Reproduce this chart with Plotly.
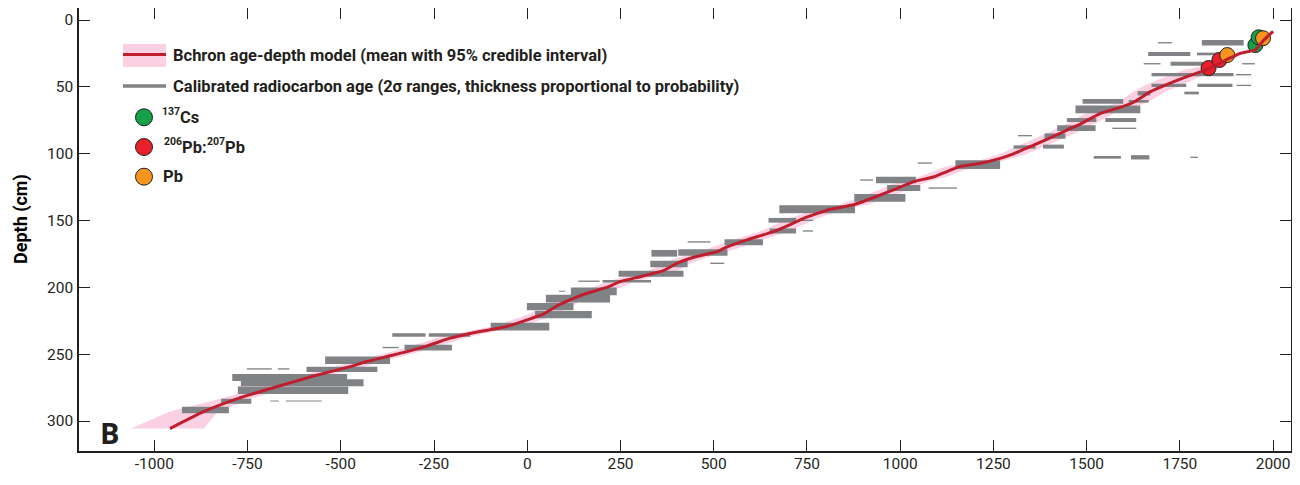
import plotly.graph_objects as go

# ---------------- data ----------------
# Bchron mean age-depth model
model_depth = [8.5, 15, 22.4, 24.9, 29.4, 36.9, 42.4, 48.1, 53.6, 61.5, 65.3, 69.8, 77.8, 82.3,
               84.8, 93.5, 100.5, 103.5, 107.2, 109.5, 117.4, 120.9, 127, 130.9, 138.2, 141.6,
               148.3, 153, 158.3, 164.5, 170.8, 173.3, 177.5, 182, 187.5, 192, 195.7, 200, 204.4,
               208.2, 213.9, 220, 224.4, 228.6, 235, 238, 244.3, 250.6, 255.5, 259.3,
               266.3, 274.3, 283, 293, 305.6]
model_age = [2000, 1975, 1952, 1912, 1877, 1823, 1769, 1716, 1671, 1626, 1590, 1537, 1483, 1447,
             1429, 1358, 1300, 1268, 1215, 1161, 1089, 1036, 982, 947, 875, 812,
             741, 705, 660, 589, 527, 509, 446, 401, 365, 303, 249, 213, 160,
             124, 79, 43, -1, -46, -162, -207, -274, -359, -430, -475,
             -573, -672, -775, -868, -958]

# 95% credible interval of the model
band_depth = [20, 25, 30, 34, 37, 42.4, 48.1, 53.6, 61.5, 65.3, 69.8, 77.8, 84.8, 93.5, 100.5,
              103.5, 107.2, 109.5, 117.4, 120.9, 127, 130.9, 138.2, 141.6, 148.3, 153, 158.3,
              164.5, 170.8, 177.5, 182, 187.5, 192, 195.7, 200, 204.4, 208.2, 213.9, 220, 224.4,
              228.6, 235, 238, 244.3, 250.6, 255.5, 259.3, 266.3, 274.3, 283, 293, 300, 305.6]
band_lo = [1950, 1900, 1860, 1820, 1765, 1712, 1662, 1625, 1585, 1550, 1497, 1447, 1392, 1322, 1265,
           1232, 1177, 1122, 1052, 997, 942, 909, 837, 775, 703, 667, 622,
           551, 489, 408, 363, 327, 265, 211, 175, 122, 86, 41, 5, -39,
           -84, -200, -245, -312, -397, -468, -513, -611, -710, -818, -960, -1020, -1063]
band_hi = [1968, 1925, 1880, 1850, 1835, 1805, 1760, 1710, 1665, 1625, 1575, 1520, 1468, 1395, 1338,
           1303, 1253, 1198, 1123, 1073, 1018, 985, 913, 851, 779, 743, 698,
           627, 565, 484, 439, 403, 341, 287, 251, 198, 162, 117, 81, 37,
           -8, -124, -169, -236, -321, -392, -437, -535, -634, -737, -830, -851, -867]

# Calibrated radiocarbon ages: depth, 2-sigma range start/end, relative probability
rc_depth = [17.0, 17.0, 25.4, 25.4, 32.7, 32.7, 32.7, 40.9, 40.9, 48.9, 48.9, 48.9, 54.6, 54.8,
            60.8, 60.8, 66.8, 74.8, 74.8, 80.8, 81.0, 86.5, 86.8, 95.0, 94.7, 102.7, 102.7, 102.7,
            107.0, 108.2, 119.7, 119.7, 125.7, 125.7, 133.0, 141.6, 149.8, 149.8, 157.8, 157.8,
            166.3, 166.0, 173.9, 174.5, 182.0, 182.5, 189.8, 195.4, 195.4, 202.9, 202.9, 208.4,
            214.4, 220.4, 229.4, 235.6, 235.6, 245.0, 245.0, 254.5, 261.3, 261.0, 261.0, 267.5,
            271.3, 277.0, 285.2, 285.0, 285.0, 291.7]
rc_start = [1691, 1809, 1665, 1796, 1653, 1725, 1917, 1674, 1900, 1674, 1797, 1902, 1762, 1637,
            1489, 1613, 1470, 1447, 1550, 1421, 1569, 1316, 1387, 1304, 1383, 1519, 1619, 1778,
            1047, 1148, 893, 935, 965, 1076, 877, 676, 647, 734, 650, 739,
            529, 430, 405, 333, 491, 330, 245, 202, 137, 117, 85, 50,
            -1, 21, -98, -362, -264, -388, -329, -542, -592, -752, -669, -791,
            -768, -776, -821, -689, -647, -926]
rc_end = [1729, 1921, 1778, 1858, 1698, 1814, 1951, 1894, 1941, 1767, 1891, 1941, 1801, 1671,
          1598, 1666, 1644, 1526, 1633, 1524, 1633, 1353, 1443, 1363, 1439, 1592, 1668, 1798,
          1085, 1268, 927, 1042, 1054, 1152, 1014, 879, 721, 766, 721, 766,
          632, 491, 537, 402, 528, 430, 419, 332, 194, 240, 102, 222,
          124, 173, 59, -273, -153, -345, -202, -368, -402, -685, -638, -483,
          -439, -480, -740, -666, -551, -800]
rc_prob = [0.15, 0.59, 0.44, 0.30, 0.15, 0.44, 0.15, 0.37, 0.15, 0.37, 0.37, 0.15, 0.30, 0.48,
           0.52, 0.30, 0.86, 0.44, 0.44, 0.63, 0.15, 0.15, 0.59, 0.37, 0.44, 0.30, 0.48, 0.15,
           0.15, 0.97, 0.15, 0.74, 0.67, 0.15, 0.86, 0.89, 0.52, 0.15, 0.56, 0.15,
           0.67, 0.15, 0.74, 0.74, 0.15, 0.74, 0.67, 0.30, 0.15, 0.86, 0.11, 0.86,
           0.81, 0.81, 0.86, 0.37, 0.37, 0.15, 0.63, 0.81, 0.59, 0.15, 0.15, 0.78,
           0.78, 0.83, 0.56, 0.11, 0.11, 0.74]

# Short-lived radionuclide / lead markers
cs_age = [1952.5, 1961]
cs_depth = [18.7, 12.9]
pbpb_age = [1827, 1856]
pbpb_depth = [35.9, 29.9]
pb_age = [1877, 1973]
pb_depth = [26.2, 13.6]

x_ticks = [-1000, -750, -500, -250, 0, 250, 500, 750, 1000, 1250, 1500, 1750, 2000]
x_ticklabels = ["-1000", "-750", "-500", "-250", "0", "250", "500", "750", "1000",
                "1250", "1500", "1750", "2000"]
y_ticks = [0, 50, 100, 150, 200, 250, 300]

legend_model = "Bchron age-depth model (mean with 95% credible interval)"
legend_rc = "Calibrated radiocarbon age (2σ ranges, thickness proportional to probability)"
legend_cs = ["137", "Cs"]
legend_pbpb = ["206", "Pb:", "207", "Pb"]
legend_pb = "Pb"

# ---------------- style ----------------
FONT = "Roboto, Liberation Sans, sans-serif"
GRAY = "#808285"
RED_LINE = "#be1e2d"
PINK = "#fcd0e3"
GREEN = "#16a04a"
RED = "#e8202a"
ORANGE = "#f7941d"
INK = "#231f20"
MAX_BAR_PX = 9.0

# page has an 8px body margin; plot area wanted at screen x 79..1291, y 8..451
W, H = 1300, 485
OFF = 8
PL, PR, PT, PB = 79, 1291, 8, 451
ML, MT = PL - OFF, PT - OFF
MR, MB = W + OFF - PR, H + OFF - PB
PW, PH = PR - PL, PB - PT


def px(xs):
    return (xs - PL) / PW


def py(ys):
    return 1 - (ys - PT) / PH


fig = go.Figure()

# credible interval band
fig.add_trace(go.Scatter(
    x=band_lo + band_hi[::-1], y=band_depth + band_depth[::-1],
    fill="toself", fillcolor=PINK, line=dict(width=0), mode="lines",
    hoverinfo="skip", showlegend=False))

# radiocarbon ranges
for d, a0, a1, p in zip(rc_depth, rc_start, rc_end, rc_prob):
    fig.add_trace(go.Scatter(
        x=[a0, a1], y=[d, d], mode="lines",
        line=dict(color=GRAY, width=max(p * MAX_BAR_PX, 1.0)),
        hoverinfo="skip", showlegend=False))

# markers
for ages, depths, col in [(pbpb_age, pbpb_depth, RED), (cs_age, cs_depth, GREEN), (pb_age, pb_depth, ORANGE)]:
    fig.add_trace(go.Scatter(
        x=ages, y=depths, mode="markers",
        marker=dict(size=15, color=col, line=dict(color=INK, width=1)),
        showlegend=False))

# mean model
fig.add_trace(go.Scatter(
    x=model_age, y=model_depth, mode="lines",
    line=dict(color=RED_LINE, width=3, shape="spline", smoothing=0.4), showlegend=False))

# ---------------- legend symbols (hidden screen-pixel overlay axis) ----------------
LX0, LX1, LXC = 123, 166, 144
leg_kw = dict(xaxis="x2", yaxis="y2", hoverinfo="skip", showlegend=False)
fig.add_trace(go.Scatter(x=[LX0, LX1], y=[55.5, 55.5], mode="lines",
                         line=dict(color=PINK, width=23), **leg_kw))
fig.add_trace(go.Scatter(x=[LX0, LX1], y=[54.5, 54.5], mode="lines",
                         line=dict(color=RED_LINE, width=3), **leg_kw))
fig.add_trace(go.Scatter(x=[LX0, LX1], y=[86, 86], mode="lines",
                         line=dict(color=GRAY, width=3.5), **leg_kw))
for cy, col in [(117.3, GREEN), (147, RED), (176.7, ORANGE)]:
    fig.add_trace(go.Scatter(x=[LXC], y=[cy], mode="markers",
                             marker=dict(size=17, color=col, line=dict(color=INK, width=1)),
                             **leg_kw))

axis_common = dict(
    showline=True, linecolor=INK, linewidth=1.5, mirror="ticks",
    ticks="inside", ticklen=11, tickwidth=1.2, tickcolor=INK,
    showgrid=False, zeroline=False, automargin=False,
    tickfont=dict(family=FONT, size=15.5, color=INK),
)

fig.update_xaxes(range=[-1202, 2048], tickvals=x_ticks, ticktext=x_ticklabels,
                 ticklabelstandoff=-2, **axis_common)
fig.update_yaxes(range=[322.4, -9], tickvals=y_ticks, ticklabelstandoff=1, **axis_common)

annotations = []


def add_text(txt, xs, ys, size, **kw):
    annotations.append(dict(xref="paper", yref="paper", x=px(xs), y=py(ys),
                            xanchor="left", yanchor="middle", showarrow=False,
                            text="<b>" + txt + "</b>", borderpad=0,
                            font=dict(family=FONT, size=size, color=INK), **kw))


MAIN, SUP = 16.5, 10.5
add_text(legend_model, 172, 56, MAIN)
add_text(legend_rc, 172, 86, MAIN)
add_text(legend_cs[0], 161, 111.5, SUP)
add_text(legend_cs[1], 179, 117, MAIN)
add_text(legend_pbpb[0], 163, 141.5, SUP)
add_text(legend_pbpb[1], 181, 147, MAIN)
add_text(legend_pbpb[2], 206, 141.5, SUP)
add_text(legend_pbpb[3], 224, 147, MAIN)
add_text(legend_pb, 162, 176.5, MAIN)

annotations.append(dict(xref="paper", yref="paper", x=px(21), y=py(219),
                        xanchor="center", yanchor="middle", showarrow=False,
                        textangle=-90, text="<b>Depth (cm)</b>",
                        font=dict(family=FONT, size=18, color="#000000")))
annotations.append(dict(xref="paper", yref="paper", x=px(109.5), y=py(432.5),
                        xanchor="center", yanchor="middle", showarrow=False,
                        text="<b>B</b>",
                        font=dict(family="Open Sans, Liberation Sans, sans-serif", size=29, color=INK)))

fig.update_layout(
    width=W, height=H,
    margin=dict(l=ML, r=MR, t=MT, b=MB, pad=0, autoexpand=False),
    paper_bgcolor="white", plot_bgcolor="white",
    annotations=annotations,
    showlegend=False,
    xaxis2=dict(overlaying="x", range=[PL, PR], visible=False, fixedrange=True),
    yaxis2=dict(overlaying="y", range=[PB, PT], visible=False, fixedrange=True),
)

fig.write_html("out.html")
